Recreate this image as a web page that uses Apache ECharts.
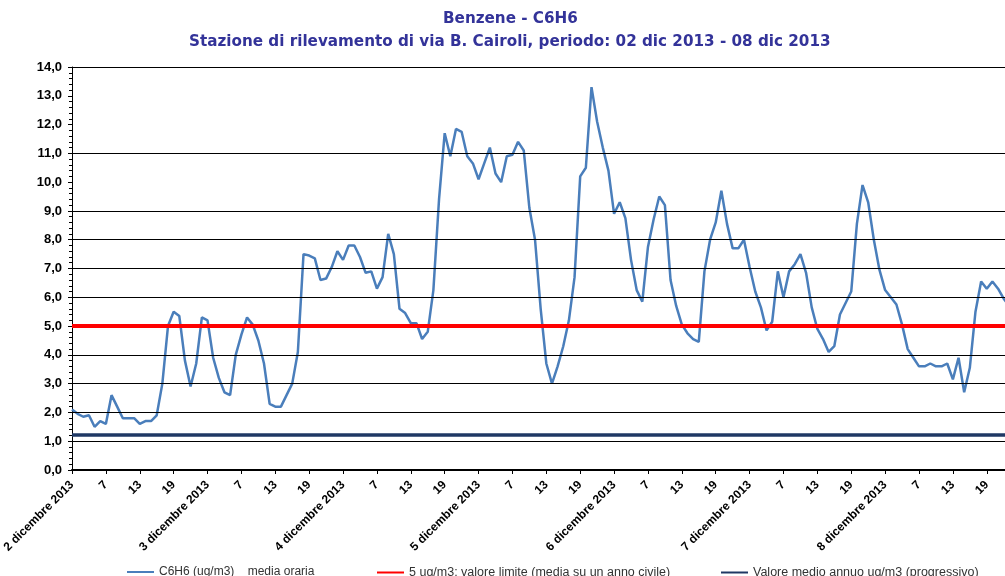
<!DOCTYPE html>
<html>
<head>
<meta charset="utf-8">
<script src="https://cdn.jsdelivr.net/npm/echarts@6/dist/echarts.min.js"></script>
<style>
  html, body { margin: 0; padding: 0; background: #fff; }
  #chart { width: 1005px; height: 576px; }
</style>
</head>
<body>
<div id="chart"></div>
<script>
//--------------------- Data ---------------------------//
const days = ['2 dicembre 2013', '3 dicembre 2013', '4 dicembre 2013', '5 dicembre 2013',
  '6 dicembre 2013', '7 dicembre 2013', '8 dicembre 2013'];

// hourly benzene concentration (ug/m3), hours 1..24 of each day
const benzene = [
  // 2 dic
  2.1, 1.95, 1.85, 1.9, 1.5, 1.7, 1.6, 2.6, 2.2, 1.8, 1.8, 1.8,
  1.6, 1.7, 1.7, 1.9, 3.0, 5.0, 5.5, 5.35, 3.8, 2.9, 3.7, 5.3,
  // 3 dic
  5.2, 3.9, 3.2, 2.7, 2.6, 4.0, 4.7, 5.3, 5.05, 4.5, 3.7, 2.3,
  2.2, 2.2, 2.6, 3.0, 4.1, 7.5, 7.45, 7.35, 6.6, 6.65, 7.05, 7.6,
  // 4 dic
  7.3, 7.8, 7.8, 7.4, 6.85, 6.9, 6.3, 6.7, 8.2, 7.5, 5.6, 5.45,
  5.1, 5.1, 4.55, 4.8, 6.25, 9.4, 11.7, 10.9, 11.85, 11.75, 10.9, 10.65,
  // 5 dic
  10.1, 10.65, 11.2, 10.3, 10.0, 10.9, 10.95, 11.4, 11.1, 9.1, 8.0, 5.6,
  3.7, 3.0, 3.6, 4.3, 5.2, 6.7, 10.2, 10.5, 13.3, 12.1, 11.2, 10.4,
  // 6 dic
  8.9, 9.3, 8.75, 7.3, 6.25, 5.85, 7.75, 8.7, 9.5, 9.2, 6.6, 5.7,
  5.05, 4.75, 4.55, 4.45, 6.9, 8.0, 8.6, 9.7, 8.55, 7.7, 7.7, 8.0,
  // 7 dic
  7.05, 6.2, 5.65, 4.85, 5.15, 6.9, 6.0, 6.9, 7.15, 7.5, 6.85, 5.65,
  4.9, 4.55, 4.1, 4.3, 5.4, 5.8, 6.2, 8.55, 9.9, 9.3, 8.0, 6.95,
  // 8 dic
  6.25, 6.0, 5.75, 5.05, 4.2, 3.9, 3.6, 3.6, 3.7, 3.6, 3.6, 3.7,
  3.15, 3.9, 2.7, 3.55, 5.5, 6.55, 6.3, 6.55, 6.3, 5.95, 5.7, 5.5
];

const limitValue = 5;      // valore limite
const annualMean = 1.24;   // valore medio annuo progressivo

const seriesNames = [
  'C6H6 (ug/m3)    media oraria',
  '5 ug/m3: valore limite (media su un anno civile)',
  'Valore medio annuo ug/m3 (progressivo)'
];

// horizontal grid lines that are visible in the reference
const gridLineValues = [1, 2, 3, 4, 6, 7, 8, 9, 11, 14];

//--------------------- Build ---------------------------//
const categories = [];
days.forEach((d) => {
  for (let h = 1; h <= 24; h++) categories.push(d + '|' + h);
});

const labelFont = 'Liberation Sans, Arial, sans-serif';
const titleStyle = { fontFamily: 'DejaVu Sans', fontWeight: 'bold', fontSize: 15.2, color: '#333399' };
const legendCommon = {
  top: 561, icon: 'rect', itemWidth: 27, itemHeight: 2, itemGap: 0,
  textStyle: { fontFamily: labelFont, fontSize: 12.5, color: '#333333' }
};

const chart = echarts.init(document.getElementById('chart'), null, { renderer: 'canvas' });

const option = {
  animation: false,
  backgroundColor: '#ffffff',
  title: [
    { text: 'Benzene - C6H6', left: 443, top: 12, padding: 0, textStyle: titleStyle },
    {
      text: 'Stazione di rilevamento di via B. Cairoli, periodo: 02 dic 2013 - 08 dic 2013',
      left: 189, top: 35, padding: 0, textStyle: titleStyle
    }
  ],
  legend: [
    Object.assign({}, legendCommon, {
      data: [seriesNames[0]], left: 122,
      textStyle: { fontFamily: labelFont, fontSize: 12, color: '#333333' }
    }),
    Object.assign({}, legendCommon, { data: [seriesNames[1]], left: 372 }),
    Object.assign({}, legendCommon, { data: [seriesNames[2]], left: 716 })
  ],
  grid: { left: 72, top: 67, bottom: 106, width: 943, containLabel: false, outerBoundsMode: 'none' },
  xAxis: {
    type: 'category',
    data: categories,
    boundaryGap: false,
    axisLine: { lineStyle: { color: '#000', width: 2 } },
    axisTick: { show: true, interval: 5, length: 4, lineStyle: { color: '#000', width: 1 } },
    axisLabel: {
      interval: 5,
      rotate: 45,
      margin: 13,
      fontFamily: labelFont,
      fontWeight: 'bold',
      fontSize: 12,
      color: '#000',
      formatter: (val) => {
        const parts = val.split('|');
        return parts[1] === '1' ? parts[0] : parts[1];
      }
    },
    splitLine: { show: false }
  },
  yAxis: {
    type: 'value',
    min: 0, max: 14, interval: 1,
    axisLine: { show: true, lineStyle: { color: '#000', width: 1 } },
    axisTick: { show: true, length: 4, lineStyle: { color: '#000' } },
    minorTick: { show: true, splitNumber: 5, length: 3, lineStyle: { color: '#000' } },
    axisLabel: {
      margin: 10,
      fontFamily: labelFont,
      fontWeight: 'bold',
      fontSize: 13,
      color: '#000',
      formatter: (v) => v.toFixed(1).replace('.', ',')
    },
    splitLine: { show: false }
  },
  series: [
    {
      // horizontal grid lines
      name: 'grid',
      type: 'line',
      data: [],
      symbol: 'none',
      markLine: {
        silent: true, symbol: 'none', label: { show: false },
        lineStyle: { color: '#000', width: 1, type: 'solid' },
        data: gridLineValues.map((v) => ({ yAxis: v }))
      },
      z: 1
    },
    {
      name: seriesNames[0],
      type: 'line',
      data: benzene,
      symbol: 'none',
      itemStyle: { color: '#4a7ebb' },
      lineStyle: { color: '#4a7ebb', width: 2.5 },
      z: 2
    },
    {
      name: seriesNames[1],
      type: 'line',
      data: [],
      symbol: 'none',
      itemStyle: { color: '#ff0000' },
      lineStyle: { color: '#ff0000', width: 2 },
      markLine: {
        silent: true, symbol: 'none', label: { show: false },
        lineStyle: { color: '#ff0000', width: 4, type: 'solid' },
        data: [{ yAxis: limitValue }]
      },
      z: 3
    },
    {
      name: seriesNames[2],
      type: 'line',
      data: [],
      symbol: 'none',
      itemStyle: { color: '#1f3864' },
      lineStyle: { color: '#1f3864', width: 2 },
      markLine: {
        silent: true, symbol: 'none', label: { show: false },
        lineStyle: { color: '#1f3864', width: 3.5, type: 'solid' },
        data: [{ yAxis: annualMean }]
      },
      z: 3
    }
  ]
};

chart.setOption(option);
</script>
</body>
</html>
